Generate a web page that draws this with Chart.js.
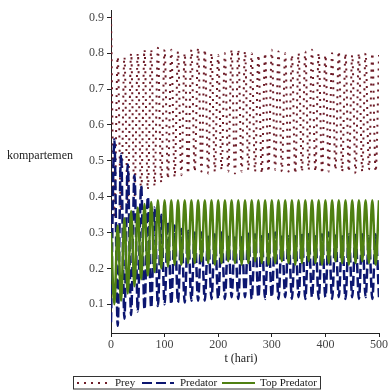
<!DOCTYPE html>
<html>
<head>
<meta charset="utf-8">
<script src="https://cdn.jsdelivr.net/npm/chart.js@4.4.1/dist/chart.umd.min.js"></script>
<style>
  body { margin: 0; background: #fff; }
  #wrap { width: 389px; height: 390px; }
</style>
</head>
<body>
<div id="wrap"><canvas id="myChart" width="389" height="390"></canvas></div>
<script>
// waktu (hari) di titik puncak / lembah osilasi
const tHari = [0, 6.25, 12.5, 18.75, 25, 31.25, 37.5, 43.75, 50, 56.25, 62.5, 68.75, 75, 81.25, 87.5, 93.75,
  100, 106.25, 112.5, 118.75, 125, 131.25, 137.5, 143.75, 150, 156.25, 162.5, 168.75, 175, 181.25, 187.5, 193.75,
  200, 206.25, 212.5, 218.75, 225, 231.25, 237.5, 243.75, 250, 256.25, 262.5, 268.75, 275, 281.25, 287.5, 293.75,
  300, 306.25, 312.5, 318.75, 325, 331.25, 337.5, 343.75, 350, 356.25, 362.5, 368.75, 375, 381.25, 387.5, 393.75,
  400, 406.25, 412.5, 418.75, 425, 431.25, 437.5, 443.75, 450, 456.25, 462.5, 468.75, 475, 481.25, 487.5, 493.75, 500];

const prey = [0.90, 0.34, 0.79, 0.36, 0.79, 0.38, 0.80, 0.40, 0.80, 0.41, 0.81, 0.42, 0.81, 0.43, 0.815, 0.44,
  0.81, 0.45, 0.81, 0.455, 0.805, 0.46, 0.80, 0.465, 0.81, 0.47, 0.815, 0.47, 0.81, 0.465, 0.80, 0.47,
  0.795, 0.475, 0.80, 0.47, 0.81, 0.465, 0.81, 0.47, 0.805, 0.475, 0.80, 0.47, 0.795, 0.465, 0.80, 0.47,
  0.81, 0.475, 0.805, 0.47, 0.80, 0.47, 0.795, 0.465, 0.80, 0.47, 0.805, 0.475, 0.81, 0.47, 0.80, 0.465,
  0.795, 0.47, 0.80, 0.475, 0.805, 0.47, 0.80, 0.47, 0.795, 0.465, 0.80, 0.47, 0.80, 0.475, 0.80, 0.47, 0.795];

const predator = [0.05, 0.56, 0.04, 0.52, 0.06, 0.49, 0.07, 0.46, 0.08, 0.43, 0.085, 0.40, 0.09, 0.37, 0.095, 0.35,
  0.10, 0.33, 0.10, 0.32, 0.105, 0.31, 0.105, 0.305, 0.11, 0.30, 0.11, 0.30, 0.11, 0.295, 0.115, 0.295,
  0.115, 0.30, 0.115, 0.295, 0.12, 0.29, 0.115, 0.295, 0.12, 0.30, 0.115, 0.295, 0.12, 0.29, 0.115, 0.295,
  0.12, 0.30, 0.115, 0.295, 0.12, 0.29, 0.115, 0.295, 0.12, 0.30, 0.115, 0.295, 0.12, 0.29, 0.115, 0.295,
  0.12, 0.30, 0.115, 0.295, 0.12, 0.29, 0.115, 0.295, 0.12, 0.30, 0.115, 0.295, 0.12, 0.29, 0.115, 0.295, 0.12];

const topPredator = [0.30, 0.10, 0.32, 0.11, 0.34, 0.13, 0.36, 0.15, 0.37, 0.17, 0.38, 0.18, 0.385, 0.19, 0.39, 0.20,
  0.39, 0.205, 0.39, 0.21, 0.39, 0.21, 0.39, 0.215, 0.39, 0.215, 0.39, 0.22, 0.39, 0.215, 0.39, 0.21,
  0.39, 0.215, 0.39, 0.22, 0.39, 0.215, 0.39, 0.21, 0.39, 0.215, 0.39, 0.22, 0.39, 0.215, 0.39, 0.21,
  0.39, 0.215, 0.39, 0.22, 0.39, 0.215, 0.39, 0.21, 0.39, 0.215, 0.39, 0.22, 0.39, 0.215, 0.39, 0.21,
  0.39, 0.215, 0.39, 0.22, 0.39, 0.215, 0.39, 0.21, 0.39, 0.215, 0.39, 0.22, 0.39, 0.215, 0.39, 0.21, 0.39];

const seriesNames = ["Prey", "Predator", "Top Predator"];
const yTicks = [0.1, 0.2, 0.3, 0.4, 0.5, 0.6, 0.7, 0.8, 0.9];
const xTicks = [0, 100, 200, 300, 400, 500];
const xTitle = "t (hari)";
const yTitle = "kompartemen";

const serif = '"Liberation Serif", "DejaVu Serif", serif';

function toPoints(vals) {
    return tHari.map((t, i) => ({ x: t, y: vals[i] }));
}

// label sumbu dan legenda bergaya Maple
const labelsPlugin = {
    id: 'mapleLabels',
    afterDraw(chart) {
        const ctx = chart.ctx;
        ctx.save();
        ctx.fillStyle = '#1a1a1a';
        ctx.font = '12px ' + serif;
        ctx.textBaseline = 'middle';
        ctx.textAlign = 'left';
        ctx.fillText(yTitle, 7, 156);
        ctx.textAlign = 'center';
        ctx.fillText(xTitle, 241, 359);

        // kotak legenda
        ctx.strokeStyle = '#333';
        ctx.lineWidth = 1;
        ctx.strokeRect(73.5, 376.5, 247, 12.5);

        const samples = [[77, 108, 115], [142, 174, 180], [222, 255, 260]];
        ctx.font = '11px ' + serif;
        ctx.textAlign = 'left';
        chart.data.datasets.forEach((ds, i) => {
            const s = samples[i];
            ctx.beginPath();
            ctx.setLineDash(ds.borderDash || []);
            ctx.strokeStyle = ds.borderColor;
            ctx.lineWidth = 2;
            ctx.moveTo(s[0], 383);
            ctx.lineTo(s[1], 383);
            ctx.stroke();
            ctx.setLineDash([]);
            ctx.fillStyle = '#1a1a1a';
            ctx.fillText(ds.label, s[2], 383);
        });
        ctx.restore();
    }
};

const ctx = document.getElementById('myChart').getContext('2d');
const chart = new Chart(ctx, {
    type: 'line',
    data: {
        datasets: [
            {
                label: seriesNames[0],
                data: toPoints(prey),
                borderColor: '#6e1c28',
                borderWidth: 2,
                borderDash: [2, 5],
                pointRadius: 0,
                cubicInterpolationMode: 'monotone',
                order: 3
            },
            {
                label: seriesNames[1],
                data: toPoints(predator),
                borderColor: '#0c1670',
                borderWidth: 2.5,
                borderDash: [10, 4],
                pointRadius: 0,
                cubicInterpolationMode: 'monotone',
                order: 2
            },
            {
                label: seriesNames[2],
                data: toPoints(topPredator),
                borderColor: '#4f8012',
                borderWidth: 2.5,
                pointRadius: 0,
                cubicInterpolationMode: 'monotone',
                order: 1
            }
        ]
    },
    options: {
        responsive: false,
        animation: false,
        devicePixelRatio: 1,
        layout: { padding: { top: 8, right: 10, left: 0, bottom: 0 } },
        plugins: {
            legend: { display: false },
            tooltip: { enabled: false }
        },
        scales: {
            x: {
                type: 'linear',
                min: 0,
                max: 500,
                afterBuildTicks: (scale) => { scale.ticks = xTicks.map(v => ({ value: v })); },
                afterFit: (scale) => { scale.height = 57; },
                grid: { drawOnChartArea: false, drawTicks: true, tickLength: 4, color: '#222' },
                border: { display: true, color: '#222', width: 1 },
                ticks: {
                    color: '#444',
                    padding: 1,
                    maxRotation: 0,
                    font: { family: serif, size: 12 },
                    callback: (v) => String(v)
                }
            },
            y: {
                type: 'linear',
                min: 0.02,
                max: 0.92,
                afterBuildTicks: (scale) => { scale.ticks = yTicks.map(v => ({ value: v })); },
                afterFit: (scale) => { scale.width = 111; },
                grid: { drawOnChartArea: false, drawTicks: true, tickLength: 4, color: '#222' },
                border: { display: true, color: '#222', width: 1 },
                ticks: {
                    color: '#444',
                    padding: 3,
                    font: { family: serif, size: 12 },
                    callback: (v) => v.toFixed(1)
                }
            }
        }
    },
    plugins: [labelsPlugin]
});
</script>
</body>
</html>
